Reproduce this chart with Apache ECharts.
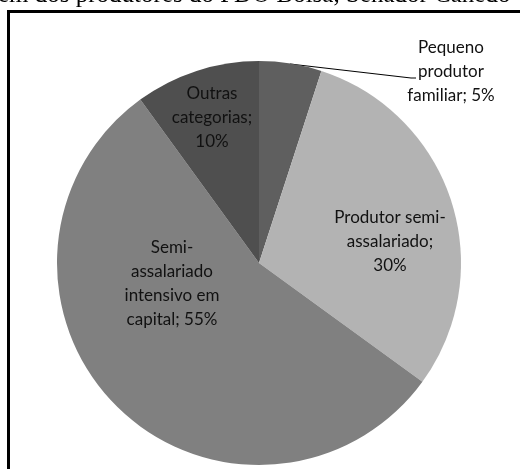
<!DOCTYPE html>
<html>
<head>
<meta charset="utf-8">
<script src="https://cdn.jsdelivr.net/npm/echarts@6/dist/echarts.min.js"></script>
<style>
  html, body { margin: 0; padding: 0; background: #ffffff; }
  #chart { width: 520px; height: 469px; }
</style>
</head>
<body>
<div id="chart"></div>
<script>
// Producer categories and their share (%)
const categories = [
  'Pequeno produtor familiar',
  'Produtor semi-assalariado',
  'Semi-assalariado intensivo em capital',
  'Outras categorias'
];
const shares = [5, 30, 55, 10];

// How each slice label is broken into lines ({v} = share)
const labelText = [
  'Pequeno\nprodutor\nfamiliar; {v}%',
  'Produtor semi-\nassalariado;\n{v}%',
  'Semi-\nassalariado\nintensivo em\ncapital; {v}%',
  'Outras\ncategorias;\n{v}%'
];

// Label anchor points (centre of each text block) and the leader line for the small slice
const labelAnchors = [[451, 72], [390, 242], [172, 284], [212, 118]];
const leaderLine = [[290, 64], [411, 78], [416, 78]];

const sliceColors = ['#5f5f5f', '#b3b3b3', '#808080', '#4f4f4f'];

const chart = echarts.init(document.getElementById('chart'), null, { renderer: 'canvas' });

chart.setOption({
  animation: false,
  backgroundColor: '#ffffff',
  graphic: [
    {
      type: 'text',
      left: -2,
      top: -17,
      silent: true,
      style: {
        text: 'em dos produtores do PDO Bolsa, Senador Canedo',
        font: '25px "Liberation Serif", "Times New Roman", serif',
        fill: '#000000'
      }
    },
    {
      type: 'rect',
      silent: true,
      shape: { x: 8.5, y: 11.5, width: 700, height: 700 },
      style: { fill: 'none', stroke: '#000000', lineWidth: 3 }
    }
  ],
  series: [
    {
      type: 'pie',
      center: [259, 263],
      radius: 202,
      startAngle: 90,
      clockwise: true,
      avoidLabelOverlap: false,
      data: categories.map((name, i) => ({
        name: name,
        value: shares[i],
        itemStyle: { color: sliceColors[i] },
        label: { position: i === 0 ? 'outside' : 'inside' },
        labelLine: { show: i === 0 }
      })),
      label: {
        show: true,
        formatter: (p) => labelText[p.dataIndex].replace('{v}', p.value),
        fontFamily: 'Lato, "Open Sans", sans-serif',
        fontSize: 17,
        lineHeight: 24,
        color: '#111111',
        align: 'center'
      },
      labelLine: {
        lineStyle: { color: '#000000', width: 1 }
      },
      labelLayout: (params) => {
        const i = params.dataIndex;
        const out = {
          x: labelAnchors[i][0],
          y: labelAnchors[i][1],
          align: 'center',
          verticalAlign: 'middle'
        };
        if (i === 0) out.labelLinePoints = leaderLine;
        return out;
      },
      emphasis: { disabled: true }
    }
  ]
});
</script>
</body>
</html>
